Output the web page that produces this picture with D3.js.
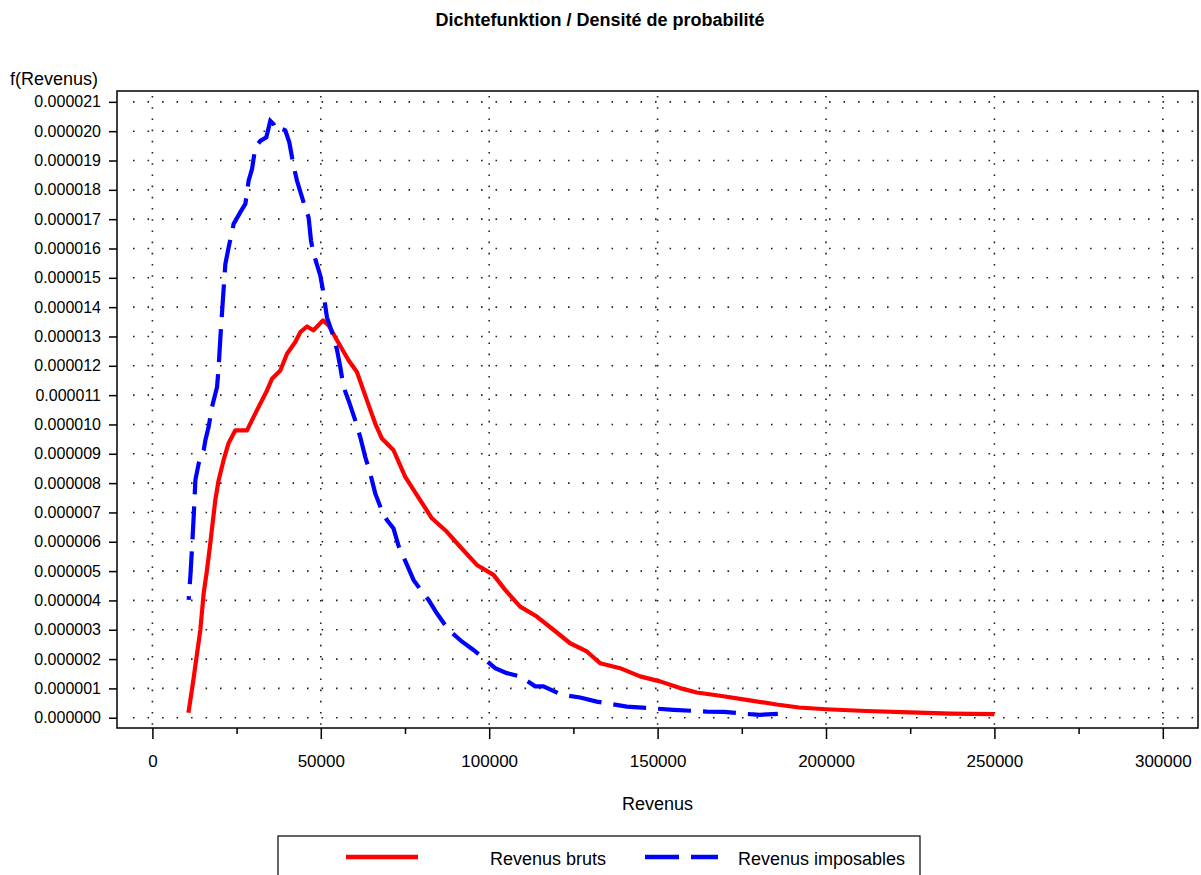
<!DOCTYPE html>
<html><head><meta charset="utf-8">
<script src="https://cdn.jsdelivr.net/npm/d3@7"></script>
<style>
html,body{margin:0;padding:0;background:#fff;}
svg text{font-family:"Liberation Sans",Arial,sans-serif;fill:#000;}
</style></head>
<body><svg id="c" width="1201" height="875"></svg>
<script>
// Data (density values in units of 1e-6)
const brutsX = [10700,12170,14240,15230,16210,17200,18000,18690,19670,21150,22640,24630,28100,29580,32040,34030,35510,37980,39970,42430,43910,45890,47860,50650,52310,54800,58240,60730,63700,66160,68150,71600,75070,78540,82990,87440,91380,96340,101280,104740,109190,114140,119070,124020,128970,132920,138860,144790,150720,156650,161600,168530,176440,185350,192000,200000,212000,225000,237000,250000];
const brutsY = [0.17,1.29,3.00,4.25,5.04,5.96,6.75,7.43,8.10,8.79,9.37,9.80,9.80,10.15,10.71,11.16,11.56,11.84,12.41,12.81,13.15,13.34,13.21,13.55,13.38,12.87,12.19,11.79,10.82,10.03,9.52,9.12,8.21,7.59,6.80,6.34,5.83,5.21,4.87,4.36,3.79,3.45,3.00,2.54,2.26,1.86,1.69,1.41,1.24,1.01,0.86,0.75,0.61,0.45,0.35,0.29,0.23,0.18,0.14,0.12];
const imposX = [10770,11270,11770,12260,12760,13740,15230,15730,16700,17700,19200,19670,20180,20980,21660,22640,24130,26110,27600,28570,29580,30560,32040,33820,35010,36000,36990,38480,39460,40650,41920,42930,44890,46380,47090,47860,49840,50650,51830,53310,54800,55780,56760,58240,60230,61710,63200,64680,66160,68150,69630,71600,73080,75070,77530,80010,81980,84450,87910,91870,95330,98290,101770,105240,109190,113640,116100,121560,126990,131940,135390,140840,149740,154680,164580,169700,177430,180300,185700];
const imposY = [4.02,4.82,5.80,6.86,8.10,8.67,9.12,9.46,9.92,10.6,11.28,11.96,12.95,14.34,15.47,16.04,16.84,17.24,17.52,18.31,18.71,19.45,19.67,19.79,20.35,20.24,20.01,20.07,20.03,19.62,18.82,18.31,17.57,17.06,16.27,15.82,15.08,14.57,13.65,13.15,12.55,11.96,11.28,10.82,10.14,9.57,8.89,8.33,7.65,7.05,6.74,6.45,5.86,5.35,4.70,4.30,4.02,3.56,3.00,2.60,2.31,2.03,1.69,1.52,1.41,1.07,1.07,0.78,0.69,0.55,0.48,0.38,0.31,0.27,0.21,0.20,0.12,0.10,0.13];
const xTicks = [0,50000,100000,150000,200000,250000,300000];
const xMinorTicks = [25000,75000,125000,175000,225000,275000];
const yTicks = d3.range(0,22); // 0 .. 21 (x 1e-6)
const seriesNames = ["Revenus bruts","Revenus imposables"];
const title = "Dichtefunktion / Densité de probabilité";

const svg = d3.select("#c");
const L=117,R=1198,T=91,B=728;
const x = d3.scaleLinear().domain([-10510,310450]).range([L,R]);
const y = d3.scaleLinear().domain([-0.35,21.37]).range([B,T]);

// grid
const g = svg.append("g");
g.selectAll(".hg").data(yTicks).join("line")
  .attr("x1",L+16).attr("x2",R).attr("y1",d=>y(d)).attr("y2",d=>y(d))
  .attr("stroke","#222").attr("stroke-width",1.6).attr("stroke-dasharray","1.6,12.9");
g.selectAll(".vg").data(xTicks).join("line")
  .attr("x1",d=>x(d)).attr("x2",d=>x(d)).attr("y1",T+5).attr("y2",B)
  .attr("stroke","#222").attr("stroke-width",1.6).attr("stroke-dasharray","1.6,9.6");

// curves
const line = d3.line().x(d=>x(d[0])).y(d=>y(d[1]));
svg.append("path").datum(brutsX.map((v,i)=>[v,brutsY[i]]))
  .attr("d",line).attr("fill","none").attr("stroke","#ff0000").attr("stroke-width",4.2).attr("stroke-linejoin","round");
const bp = svg.append("path").datum(imposX.map((v,i)=>[v,imposY[i]]))
  .attr("d",line).attr("fill","none").attr("stroke","#0000ff").attr("stroke-width",4.2).attr("stroke-dasharray","33,12");
const plen = bp.node().getTotalLength();
bp.attr("stroke-dashoffset", ((30 - (plen % 45)) % 45 + 45) % 45);

// frame
svg.append("rect").attr("x",L).attr("y",T).attr("width",R-L).attr("height",B-T)
  .attr("fill","none").attr("stroke","#000").attr("stroke-width",1.5);

// axes
const ya = svg.append("g").attr("transform",`translate(${L},0)`)
  .call(d3.axisLeft(y).tickValues(yTicks).tickSize(8).tickPadding(8).tickFormat(d=>(d*1e-6).toFixed(6)));
ya.select(".domain").remove();
ya.selectAll("line").attr("stroke","#000").attr("stroke-width",1.5);
ya.selectAll("text").style("font-size","16px");

const xa = svg.append("g").attr("transform",`translate(0,${B})`)
  .call(d3.axisBottom(x).tickValues(xTicks).tickSize(11).tickPadding(16).tickFormat(d3.format("d")));
xa.select(".domain").remove();
xa.selectAll("line").attr("stroke","#000").attr("stroke-width",1.5);
xa.selectAll("text").style("font-size","17px");
const xm = svg.append("g").attr("transform",`translate(0,${B})`)
  .call(d3.axisBottom(x).tickValues(xMinorTicks).tickSize(6).tickFormat(""));
xm.select(".domain").remove();
xm.selectAll("line").attr("stroke","#000").attr("stroke-width",1.5);

// titles
svg.append("text").attr("x",600).attr("y",26).attr("text-anchor","middle")
  .style("font-size","18px").style("font-weight","bold").text(title);
svg.append("text").attr("x",10).attr("y",85).style("font-size","18px").text("f(Revenus)");
svg.append("text").attr("x",(L+R)/2).attr("y",810).attr("text-anchor","middle").style("font-size","18px").text("Revenus");

// legend
svg.append("rect").attr("x",278).attr("y",836).attr("width",642).attr("height",80)
  .attr("fill","none").attr("stroke","#000").attr("stroke-width",1.2);
svg.append("line").attr("x1",346).attr("x2",418).attr("y1",857).attr("y2",857)
  .attr("stroke","#ff0000").attr("stroke-width",4.5);
svg.append("text").attr("x",490).attr("y",865).style("font-size","18px").text(seriesNames[0]);
svg.append("line").attr("x1",645).attr("x2",718).attr("y1",857).attr("y2",857)
  .attr("stroke","#0000ff").attr("stroke-width",4.5).attr("stroke-dasharray","34,12");
svg.append("text").attr("x",738).attr("y",865).style("font-size","18px").text(seriesNames[1]);
</script></body></html>
